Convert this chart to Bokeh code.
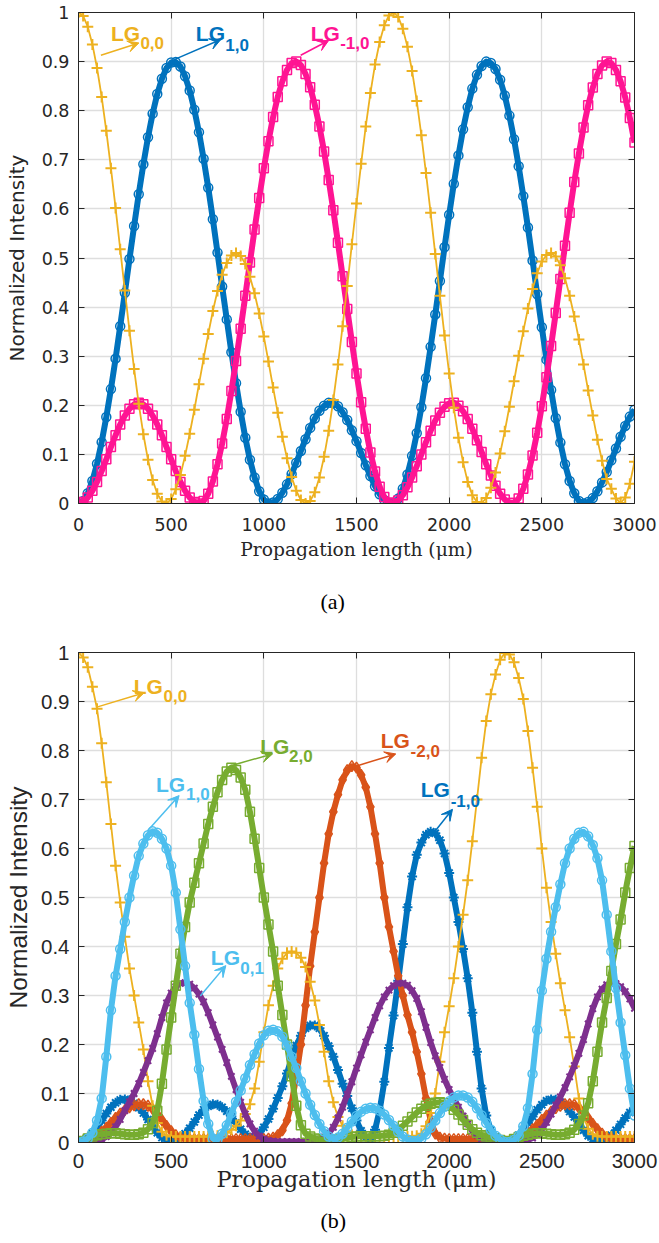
from bokeh.plotting import figure
from bokeh.layouts import column
from bokeh.models import (Range1d, FixedTicker, CustomJSTickFormatter, LinearAxis,
                          Label, Arrow, VeeHead, Title)
from bokeh.embed import file_html
from bokeh.resources import INLINE

# propagation length samples (um)
z_um = list(range(0, 3001, 25))

# ---- (a) normalized intensities, three coupled modes ----
a_lg_0_0 = [
    1.000, 0.993, 0.971, 0.935, 0.887, 0.828, 0.759, 0.683, 0.602, 0.518,
    0.434, 0.352, 0.274, 0.203, 0.141, 0.089, 0.048, 0.020, 0.004, 0.000,
    0.009, 0.029, 0.058, 0.097, 0.142, 0.191, 0.243, 0.295, 0.345, 0.392,
    0.433, 0.466, 0.490, 0.505, 0.510, 0.504, 0.488, 0.462, 0.428, 0.387,
    0.340, 0.289, 0.236, 0.185, 0.136, 0.092, 0.054, 0.026, 0.007, 0.000,
    0.005, 0.023, 0.053, 0.095, 0.148, 0.211, 0.283, 0.361, 0.443, 0.528,
    0.611, 0.692, 0.768, 0.836, 0.894, 0.940, 0.974, 0.994, 1.000, 0.991,
    0.967, 0.930, 0.881, 0.820, 0.750, 0.673, 0.592, 0.508, 0.423, 0.342,
    0.265, 0.195, 0.134, 0.084, 0.044, 0.017, 0.003, 0.001, 0.011, 0.032,
    0.063, 0.102, 0.147, 0.197, 0.249, 0.301, 0.351, 0.397, 0.437, 0.469,
    0.493, 0.506, 0.510, 0.503, 0.485, 0.459, 0.423, 0.381, 0.334, 0.283,
    0.230, 0.179, 0.130, 0.087, 0.050, 0.030, 0.010, 0.001, 0.012, 0.040, 0.085,
]
a_lg_1_0 = [
    0.000, 0.005, 0.021, 0.046, 0.081, 0.125, 0.176, 0.233, 0.295, 0.361,
    0.429, 0.498, 0.565, 0.630, 0.691, 0.746, 0.794, 0.834, 0.865, 0.887,
    0.898, 0.899, 0.890, 0.870, 0.841, 0.802, 0.756, 0.702, 0.643, 0.579,
    0.511, 0.442, 0.375, 0.308, 0.245, 0.187, 0.134, 0.089, 0.053, 0.025,
    0.008, 0.000, 0.002, 0.009, 0.022, 0.039, 0.060, 0.083, 0.107, 0.131,
    0.154, 0.173, 0.189, 0.199, 0.205, 0.204, 0.198, 0.186, 0.170, 0.149,
    0.127, 0.103, 0.078, 0.056, 0.035, 0.019, 0.007, 0.001, 0.001, 0.010,
    0.030, 0.059, 0.097, 0.143, 0.196, 0.255, 0.319, 0.385, 0.453, 0.522,
    0.588, 0.651, 0.709, 0.762, 0.807, 0.845, 0.873, 0.891, 0.900, 0.897,
    0.885, 0.863, 0.831, 0.790, 0.742, 0.687, 0.626, 0.562, 0.495, 0.426,
    0.359, 0.293, 0.231, 0.174, 0.124, 0.080, 0.046, 0.021, 0.005, 0.000,
    0.003, 0.011, 0.025, 0.043, 0.064, 0.088, 0.112, 0.136, 0.158, 0.177, 0.191,
]
a_lg_m1_0 = [
    0.000, 0.003, 0.012, 0.026, 0.044, 0.066, 0.090, 0.115, 0.139, 0.161,
    0.179, 0.193, 0.202, 0.205, 0.202, 0.193, 0.179, 0.161, 0.139, 0.115,
    0.090, 0.066, 0.044, 0.026, 0.012, 0.003, 0.000, 0.005, 0.020, 0.045,
    0.080, 0.122, 0.172, 0.229, 0.290, 0.356, 0.423, 0.491, 0.558, 0.622,
    0.683, 0.738, 0.787, 0.828, 0.860, 0.883, 0.897, 0.900, 0.893, 0.875,
    0.848, 0.812, 0.768, 0.717, 0.659, 0.597, 0.531, 0.463, 0.396, 0.329,
    0.265, 0.206, 0.152, 0.104, 0.065, 0.034, 0.013, 0.002, 0.000, 0.006,
    0.017, 0.033, 0.053, 0.076, 0.100, 0.125, 0.148, 0.169, 0.185, 0.197,
    0.204, 0.205, 0.199, 0.188, 0.172, 0.152, 0.129, 0.105, 0.080, 0.057,
    0.036, 0.020, 0.008, 0.001, 0.001, 0.010, 0.030, 0.059, 0.098, 0.144,
    0.198, 0.257, 0.321, 0.388, 0.457, 0.525, 0.592, 0.655, 0.713, 0.766,
    0.811, 0.847, 0.875, 0.892, 0.900, 0.897, 0.883, 0.860, 0.827, 0.785, 0.735,
]

# ---- (b) normalized intensities, six coupled modes ----
b_lg_0_0 = [
    1.000, 0.990, 0.970, 0.930, 0.885, 0.815, 0.735, 0.650, 0.565, 0.490,
    0.420, 0.355, 0.300, 0.245, 0.190, 0.125, 0.075, 0.040, 0.022, 0.015,
    0.012, 0.012, 0.012, 0.012, 0.012, 0.012, 0.012, 0.012, 0.012, 0.013,
    0.014, 0.016, 0.020, 0.026, 0.034, 0.045, 0.058, 0.078, 0.110, 0.165,
    0.225, 0.280, 0.320, 0.355, 0.375, 0.387, 0.390, 0.387, 0.377, 0.358,
    0.328, 0.290, 0.240, 0.185, 0.125, 0.082, 0.052, 0.034, 0.023, 0.016,
    0.013, 0.012, 0.012, 0.012, 0.012, 0.012, 0.012, 0.012, 0.012, 0.012,
    0.012, 0.012, 0.013, 0.014, 0.018, 0.033, 0.060, 0.100, 0.165, 0.225,
    0.278, 0.335, 0.400, 0.465, 0.535, 0.615, 0.700, 0.785, 0.860, 0.915,
    0.955, 0.985, 0.999, 0.996, 0.980, 0.948, 0.905, 0.840, 0.765, 0.685,
    0.600, 0.520, 0.450, 0.385, 0.325, 0.270, 0.215, 0.155, 0.090, 0.052,
    0.028, 0.017, 0.013, 0.012, 0.012, 0.012, 0.012, 0.012, 0.012, 0.012, 0.012,
]
b_lg_1_0 = [
    0.000, 0.002, 0.008, 0.020, 0.045, 0.090, 0.175, 0.270, 0.340, 0.395,
    0.450, 0.500, 0.545, 0.585, 0.610, 0.627, 0.635, 0.632, 0.620, 0.600,
    0.565, 0.510, 0.435, 0.360, 0.285, 0.220, 0.150, 0.085, 0.038, 0.008,
    0.006, 0.018, 0.035, 0.060, 0.083, 0.106, 0.131, 0.158, 0.180, 0.202,
    0.219, 0.228, 0.230, 0.227, 0.216, 0.198, 0.175, 0.152, 0.125, 0.100,
    0.077, 0.056, 0.038, 0.023, 0.012, 0.007, 0.010, 0.018, 0.030, 0.043,
    0.054, 0.063, 0.069, 0.071, 0.070, 0.065, 0.057, 0.046, 0.034, 0.022,
    0.012, 0.006, 0.003, 0.003, 0.008, 0.017, 0.030, 0.045, 0.060, 0.073,
    0.084, 0.092, 0.096, 0.096, 0.092, 0.083, 0.070, 0.055, 0.040, 0.026,
    0.014, 0.006, 0.001, 0.001, 0.005, 0.014, 0.033, 0.070, 0.140, 0.230,
    0.310, 0.375, 0.430, 0.480, 0.527, 0.570, 0.600, 0.620, 0.632, 0.634,
    0.625, 0.607, 0.580, 0.535, 0.465, 0.390, 0.315, 0.245, 0.178, 0.110, 0.055,
]
b_lg_m1_0 = [
    0.000, 0.004, 0.010, 0.019, 0.031, 0.045, 0.059, 0.072, 0.081, 0.087,
    0.088, 0.086, 0.080, 0.071, 0.060, 0.047, 0.033, 0.020, 0.010, 0.005,
    0.003, 0.005, 0.010, 0.018, 0.029, 0.042, 0.056, 0.067, 0.074, 0.078,
    0.077, 0.072, 0.064, 0.053, 0.040, 0.027, 0.017, 0.010, 0.010, 0.018,
    0.031, 0.048, 0.069, 0.091, 0.115, 0.141, 0.172, 0.198, 0.218, 0.233,
    0.239, 0.239, 0.233, 0.218, 0.197, 0.175, 0.148, 0.120, 0.095, 0.070,
    0.045, 0.024, 0.010, 0.006, 0.026, 0.066, 0.124, 0.193, 0.259, 0.330,
    0.405, 0.480, 0.543, 0.587, 0.612, 0.628, 0.634, 0.631, 0.617, 0.590,
    0.550, 0.500, 0.450, 0.395, 0.335, 0.265, 0.185, 0.110, 0.055, 0.025,
    0.011, 0.004, 0.001, 0.002, 0.007, 0.015, 0.026, 0.040, 0.053, 0.067,
    0.077, 0.085, 0.088, 0.087, 0.082, 0.075, 0.063, 0.052, 0.038, 0.025,
    0.014, 0.007, 0.004, 0.004, 0.008, 0.015, 0.025, 0.037, 0.050, 0.061, 0.071,
]
b_lg_0_1 = [
    0.000, 0.000, 0.001, 0.002, 0.003, 0.006, 0.012, 0.020, 0.032, 0.047,
    0.065, 0.083, 0.100, 0.120, 0.143, 0.167, 0.192, 0.222, 0.255, 0.285,
    0.305, 0.318, 0.325, 0.326, 0.323, 0.315, 0.303, 0.287, 0.265, 0.240,
    0.215, 0.190, 0.163, 0.135, 0.108, 0.082, 0.058, 0.038, 0.023, 0.013,
    0.007, 0.004, 0.003, 0.002, 0.002, 0.002, 0.002, 0.002, 0.002, 0.002,
    0.003, 0.004, 0.006, 0.011, 0.019, 0.031, 0.050, 0.072, 0.098, 0.124,
    0.152, 0.179, 0.205, 0.230, 0.255, 0.279, 0.297, 0.311, 0.320, 0.325,
    0.325, 0.321, 0.310, 0.294, 0.267, 0.235, 0.204, 0.177, 0.153, 0.129,
    0.108, 0.090, 0.072, 0.054, 0.038, 0.023, 0.015, 0.008, 0.004, 0.003,
    0.001, 0.000, 0.000, 0.000, 0.001, 0.002, 0.003, 0.005, 0.009, 0.017,
    0.027, 0.041, 0.058, 0.076, 0.093, 0.112, 0.134, 0.157, 0.182, 0.210,
    0.242, 0.273, 0.297, 0.313, 0.322, 0.326, 0.324, 0.318, 0.308, 0.293, 0.274,
]
b_lg_2_0 = [
    0.000, 0.003, 0.008, 0.012, 0.015, 0.017, 0.018, 0.019, 0.019, 0.018,
    0.017, 0.016, 0.016, 0.017, 0.020, 0.027, 0.040, 0.065, 0.120, 0.190,
    0.255, 0.320, 0.385, 0.440, 0.490, 0.530, 0.570, 0.610, 0.650, 0.685,
    0.715, 0.740, 0.757, 0.765, 0.760, 0.745, 0.720, 0.675, 0.620, 0.560,
    0.500, 0.445, 0.390, 0.320, 0.260, 0.200, 0.135, 0.075, 0.035, 0.018,
    0.012, 0.008, 0.006, 0.005, 0.005, 0.005, 0.006, 0.007, 0.009, 0.011,
    0.012, 0.013, 0.013, 0.013, 0.013, 0.013, 0.014, 0.016, 0.020, 0.026,
    0.034, 0.043, 0.052, 0.061, 0.069, 0.075, 0.079, 0.081, 0.082, 0.080,
    0.075, 0.067, 0.057, 0.046, 0.036, 0.027, 0.020, 0.015, 0.012, 0.010,
    0.008, 0.005, 0.002, 0.003, 0.007, 0.011, 0.014, 0.016, 0.018, 0.019,
    0.019, 0.018, 0.017, 0.016, 0.016, 0.017, 0.020, 0.026, 0.038, 0.055,
    0.080, 0.125, 0.185, 0.245, 0.295, 0.350, 0.405, 0.455, 0.510, 0.560, 0.605,
]
b_lg_m2_0 = [
    0.000, 0.002, 0.005, 0.010, 0.015, 0.022, 0.030, 0.040, 0.050, 0.059,
    0.066, 0.072, 0.076, 0.078, 0.078, 0.075, 0.068, 0.058, 0.046, 0.034,
    0.023, 0.015, 0.010, 0.008, 0.007, 0.007, 0.007, 0.007, 0.007, 0.007,
    0.007, 0.007, 0.007, 0.007, 0.007, 0.007, 0.007, 0.007, 0.007, 0.007,
    0.007, 0.008, 0.010, 0.015, 0.025, 0.045, 0.080, 0.135, 0.200, 0.280,
    0.360, 0.430, 0.500, 0.570, 0.630, 0.675, 0.710, 0.740, 0.760, 0.768,
    0.765, 0.750, 0.725, 0.685, 0.630, 0.570, 0.500, 0.440, 0.390, 0.340,
    0.300, 0.260, 0.225, 0.185, 0.140, 0.090, 0.045, 0.018, 0.010, 0.008,
    0.007, 0.007, 0.007, 0.007, 0.007, 0.007, 0.007, 0.007, 0.007, 0.006,
    0.004, 0.002, 0.000, 0.001, 0.004, 0.008, 0.013, 0.019, 0.027, 0.036,
    0.046, 0.055, 0.063, 0.070, 0.075, 0.078, 0.078, 0.077, 0.071, 0.062,
    0.050, 0.038, 0.027, 0.018, 0.011, 0.009, 0.007, 0.007, 0.007, 0.007, 0.007,
]

x_ticks = [0, 500, 1000, 1500, 2000, 2500, 3000]
y_ticks = [0, 0.1, 0.2, 0.3, 0.4, 0.5, 0.6, 0.7, 0.8, 0.9, 1]

INK = "#262626"
GRID = "#dedede"
YELLOW = "#EDB120"
BLUE = "#0072BD"
PINK = "#FF1493"
ORANGE = "#D95319"
PURPLE = "#7E2F8E"
GREEN = "#77AC30"
SKY = "#4DBEEE"

tick_fmt = CustomJSTickFormatter(code="return String(Math.round(tick * 10) / 10);")
blank_fmt = CustomJSTickFormatter(code="return '';")


def make_panel(height, border_top, border_bottom, tick_font, tick_size,
               ylabel_font, ylabel_size, ylabel_standoff, ytick_standoff,
               xlabel_size, xlabel_standoff, xtick_standoff,
               caption, caption_standoff, caption_offset):
    p = figure(width=659, height=height,
               x_range=Range1d(0, 3000), y_range=Range1d(0, 1),
               output_backend="svg", toolbar_location=None,
               min_border_left=78, min_border_right=25,
               min_border_top=border_top, min_border_bottom=border_bottom,
               x_axis_label="Propagation length (μm)",
               y_axis_label="Normalized Intensity")
    p.outline_line_color = INK
    p.outline_line_width = 1

    for ax in (p.xaxis[0], p.yaxis[0]):
        ax.formatter = tick_fmt
        ax.axis_line_color = INK
        ax.major_tick_line_color = INK
        ax.major_tick_in = 6
        ax.major_tick_out = 0
        ax.minor_tick_line_color = None
        ax.major_label_text_font = tick_font
        ax.major_label_text_font_size = tick_size
        ax.major_label_text_color = INK
        ax.axis_label_text_font_style = "normal"
        ax.axis_label_text_color = INK

    xa = p.xaxis[0]
    xa.ticker = FixedTicker(ticks=x_ticks)
    xa.major_label_standoff = xtick_standoff
    xa.axis_label_text_font = "DejaVu Serif"
    xa.axis_label_text_font_size = xlabel_size
    xa.axis_label_standoff = xlabel_standoff

    ya = p.yaxis[0]
    ya.ticker = FixedTicker(ticks=y_ticks)
    ya.major_label_standoff = ytick_standoff
    ya.axis_label_text_font = ylabel_font
    ya.axis_label_text_font_size = ylabel_size
    ya.axis_label_standoff = ylabel_standoff

    # box with inward ticks on the top and right edges
    for ticks, side in ((x_ticks, "above"), (y_ticks, "right")):
        ax = LinearAxis(ticker=FixedTicker(ticks=ticks), formatter=blank_fmt,
                        major_label_text_font_size="0px", major_label_standoff=0,
                        major_tick_in=6, major_tick_out=0,
                        minor_tick_line_color=None,
                        axis_line_color=INK, major_tick_line_color=INK)
        p.add_layout(ax, side)

    p.xgrid.grid_line_color = GRID
    p.ygrid.grid_line_color = GRID
    p.xgrid.grid_line_width = 1.3
    p.ygrid.grid_line_width = 1.3

    p.add_layout(Title(text=caption, align="left", text_font="Liberation Serif",
                       text_font_size="22px", text_font_style="normal",
                       text_color="black", standoff=caption_standoff,
                       offset=caption_offset),
                 "below")
    return p


def series(p, y, color, marker, msize, lw, mlw=1.5):
    p.line(z_um, y, line_color=color, line_width=lw, line_join="round")
    p.scatter(z_um, y, marker=marker, size=msize, line_color=color,
              fill_color=None, line_width=mlw)


def mode_label(p, name_xy, sub_xy, sub, color, arrow, size="21px", sub_size="17px"):
    p.add_layout(Label(x=name_xy[0], y=name_xy[1], text="LG", text_color=color,
                       text_font="Liberation Sans", text_font_style="bold",
                       text_font_size=size, text_baseline="alphabetic"))
    p.add_layout(Label(x=sub_xy[0], y=sub_xy[1], text=sub, text_color=color,
                       text_font="Liberation Sans", text_font_style="bold",
                       text_font_size=sub_size, text_baseline="alphabetic"))
    x0, y0, x1, y1 = arrow
    p.add_layout(Arrow(x_start=x0, y_start=y0, x_end=x1, y_end=y1,
                       line_color=color, line_width=1.5,
                       end=VeeHead(size=11, fill_color=color, line_color=color)))


# ---------------- panel (a) ----------------
pa = make_panel(639, 12, 136, "DejaVu Sans", "17.5px",
                "DejaVu Sans", "20px", 10, 9,
                "18.7px", 5, 14, "(a)", 48, 242)
series(pa, a_lg_1_0, BLUE, "circle", 9, 6)
series(pa, a_lg_m1_0, PINK, "square", 9, 6)
series(pa, a_lg_0_0, YELLOW, "cross", 11, 1.8, mlw=2)

mode_label(pa, (175, 0.958), (334, 0.937), "0,0", YELLOW, (121, 0.913, 326, 0.938))
mode_label(pa, (633, 0.958), (792, 0.933), "1,0", BLUE, (516, 0.904, 768, 0.945))
mode_label(pa, (1253, 0.958), (1412, 0.937), "-1,0", PINK, (1199, 0.913, 1350, 0.943))

# ---------------- panel (b) ----------------
pb = make_panel(604, 13, 101, "Liberation Sans", "20.5px",
                "Liberation Sans", "24.5px", 6, 9,
                "22.5px", -5, 11, "(b)", 22, 242)
series(pb, b_lg_m1_0, BLUE, "asterisk", 10, 6, mlw=2)
series(pb, b_lg_m2_0, ORANGE, "diamond", 11, 6)
series(pb, b_lg_0_0, YELLOW, "cross", 11, 1.8, mlw=2)
series(pb, b_lg_0_1, PURPLE, "x", 9, 6, mlw=2)
series(pb, b_lg_2_0, GREEN, "square", 9, 6)
series(pb, b_lg_1_0, SKY, "circle", 9, 6)

mode_label(pb, (298, 0.930), (459, 0.912), "0,0", YELLOW, (94, 0.888, 355, 0.918))
mode_label(pb, (980, 0.808), (1136, 0.789), "2,0", GREEN, (822, 0.769, 1047, 0.793))
mode_label(pb, (418, 0.730), (580, 0.712), "1,0", SKY, (373, 0.636, 543, 0.708))
mode_label(pb, (1631, 0.820), (1792, 0.799), "-2,0", ORANGE, (1505, 0.769, 1712, 0.793))
mode_label(pb, (1846, 0.720), (2008, 0.697), "-1,0", BLUE, (1917, 0.632, 2018, 0.680))
mode_label(pb, (714, 0.377), (873, 0.357), "0,1", SKY, (657, 0.299, 795, 0.361))

layout = column(pa, pb)
open("out.html", "w").write(file_html(layout, INLINE))
